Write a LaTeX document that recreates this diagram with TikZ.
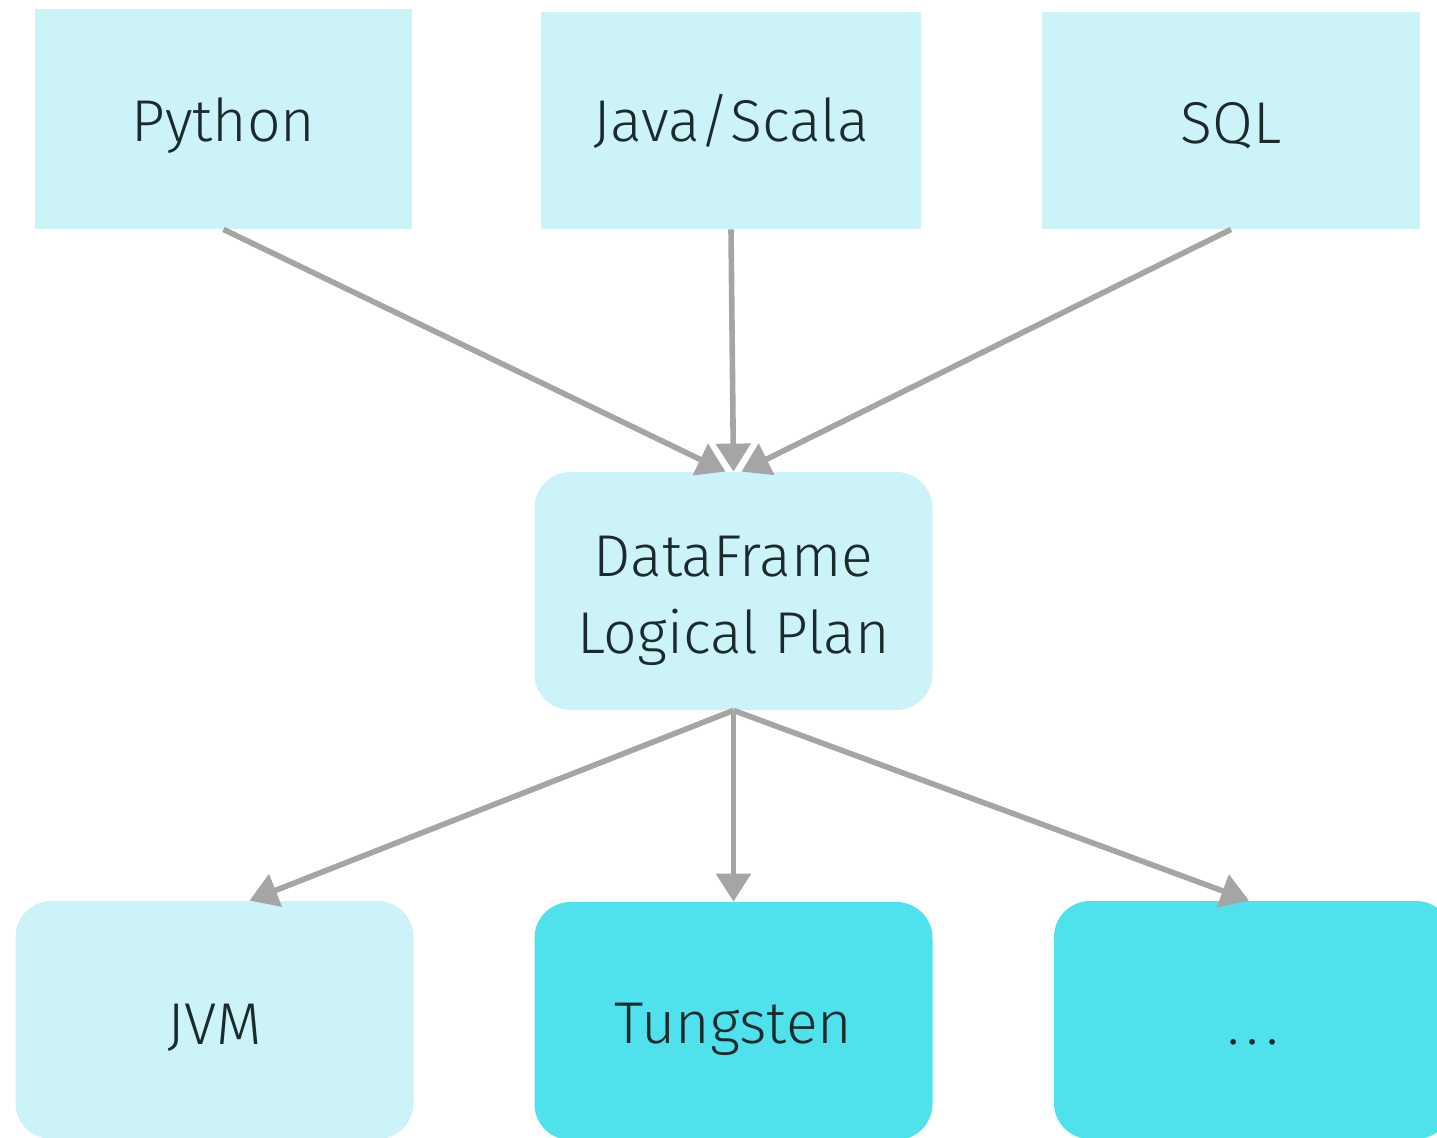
\documentclass[tikz,border=0pt]{standalone}
\usepackage{fontspec}
\setmainfont{Fira Sans Light}
\usetikzlibrary{arrows.meta,calc}
\definecolor{lightbox}{HTML}{CCF3F8}
\definecolor{darkbox}{HTML}{4FE1EC}
\definecolor{arrgray}{HTML}{A5A5A5}
\definecolor{txt}{HTML}{1B2A2C}
\begin{document}
\begin{tikzpicture}[x=0.5pt,y=-0.5pt,
  box/.style={fill=lightbox,draw=none,inner sep=0pt},
  lbl/.style={text=txt,font=\fontsize{29.5}{38.5}\selectfont,align=center,inner sep=0pt},
  one/.style={lbl,text height=0.75em,text depth=0.25em},
  rbox/.style={box,rounded corners=18pt,minimum width=199pt,minimum height=119pt},
  dbox/.style={rbox,fill=darkbox},
  arr/.style={draw=arrgray,line width=2.8pt,-{Triangle[length=14pt,width=17pt]}}]
\useasboundingbox (0,0) rectangle (1437,1137);
\clip (0,0) rectangle (1437,1137);
\node[box,minimum width=188.5pt,minimum height=110pt,label={[one,yshift=-8.5pt]center:Python}] (py) at (223.5,119) {};
\node[box,minimum width=190pt,minimum height=108.5pt,label={[one,yshift=-7.75pt]center:Java/Scala}] (jv) at (731,120.5) {};
\node[box,minimum width=189pt,minimum height=108.5pt,label={[one,yshift=-8.75pt]center:SQL}] (sq) at (1231,120.5) {};
\node[rbox,label={[lbl,yshift=-5pt]center:DataFrame\\Logical Plan}] (df) at (733.5,591) {};
\node[rbox,label={[one,yshift=-9.5pt]center:JVM}] (jvm) at (214.5,1020) {};
\node[dbox,label={[one,yshift=-8.5pt]center:Tungsten}] (tg) at (733.5,1021) {};
\node[dbox,label={[one,yshift=-9.5pt]center:.\hspace{3.5pt}.\hspace{3.5pt}.}] (etc) at (1253,1020) {};
\draw[arr] (py.south) -- ($(df.north)+(-8,0)$);
\draw[arr] (jv.south) -- ($(df.north)+(0,0)$);
\draw[arr] (sq.south) -- ($(df.north)+(8,0)$);
\draw[arr] (df.south) -- ($(jvm.north)+(35,0)$);
\draw[arr] (df.south) -- (tg.north);
\draw[arr] (df.south) -- ($(etc.north)+(-4,0)$);
\end{tikzpicture}
\end{document}
